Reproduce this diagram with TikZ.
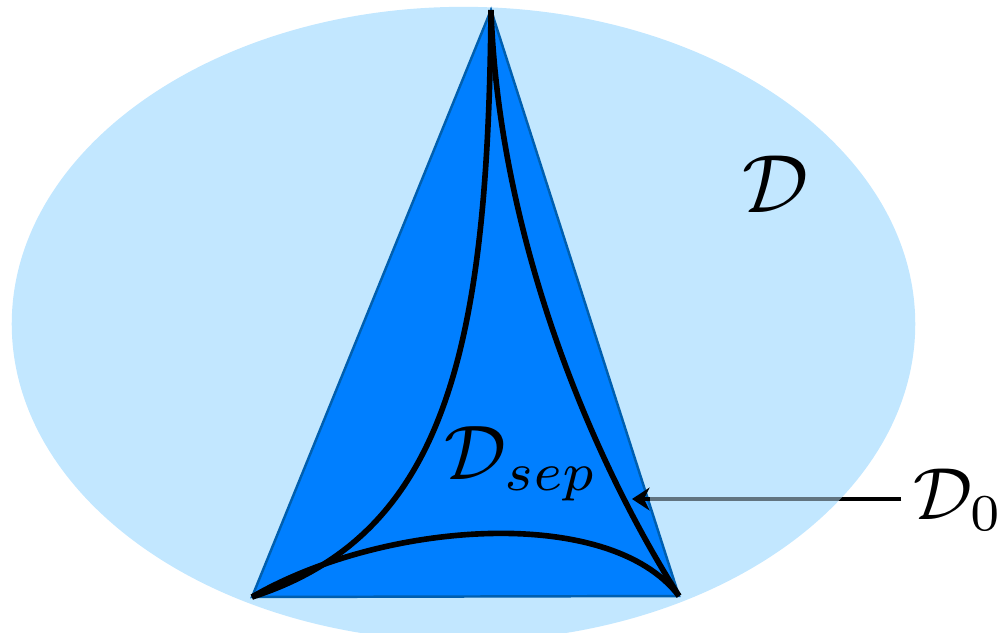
\documentclass[tikz,border=0pt]{standalone}
\usetikzlibrary{arrows.meta}
\definecolor{ellblue}{RGB}{194,231,255}
\definecolor{triblue}{RGB}{0,127,255}
\definecolor{triedge}{RGB}{0,95,175}
\begin{document}
\begin{tikzpicture}[x=0.01cm,y=-0.01cm,
  curve/.style={line width=1.6pt, black, line join=miter},
  lbl/.style={inner sep=0pt, anchor=base west},
  ptr/.style={line width=0.9pt, -{Stealth[length=5pt,width=6.5pt]}}]
\useasboundingbox (0,0) rectangle (999,632);
\clip (0,0) rectangle (999,632);
% domain D
\fill[ellblue] (463.5,324) ellipse [x radius=4.515cm, y radius=3.17cm];
% triangle
\coordinate (A) at (491,10);
\coordinate (B) at (252,597);
\coordinate (C) at (679,596);
\fill[triblue, draw=triedge, line width=0.7pt, line join=miter] (A) -- (B) -- (C) -- cycle;
% curved triangle D_sep
\draw[curve] (A) .. controls (488,350) and (445,535) .. (B);
\draw[curve] (A) .. controls (498,220) and (580,440) .. (C);
\draw[curve] (B) .. controls (385,520) and (610,505) .. (C);
% labels
\node[lbl, scale=2.35] (D) at (741,212) {$\mathcal{D}$};
\node[lbl, scale=2.2] (Dsep) at (443,479) {$\mathcal{D}_{sep}$};
\node[lbl, scale=2.1] (D0) at (912,519) {$\mathcal{D}_0$};
% pointer
\coordinate (tip) at (632,499);
\coordinate (shaft) at (650,499);
\draw[ptr] ([xshift=-3pt]D0.west |- tip) -- (tip);
\begin{scope}
\clip (463.5,324) ellipse [x radius=4.515cm, y radius=3.17cm];
\draw[line width=0.9pt, ellblue!50!black] ([xshift=-3pt]D0.west |- tip) -- (shaft);
\end{scope}
\end{tikzpicture}
\end{document}
